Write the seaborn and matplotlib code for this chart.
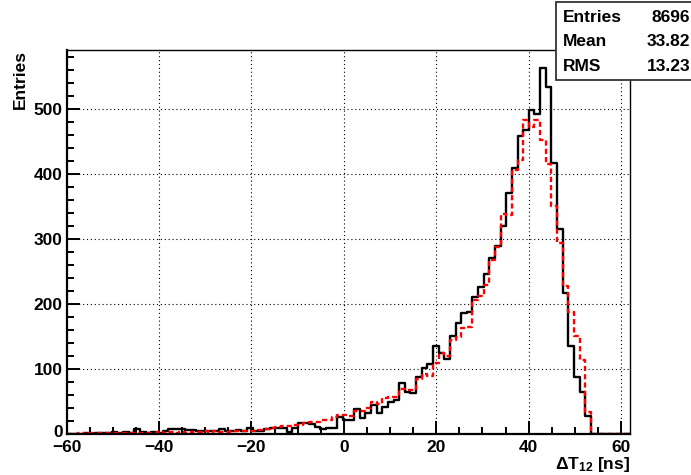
import numpy as np
import pandas as pd
import matplotlib
matplotlib.use("Agg")
import matplotlib.pyplot as plt
import matplotlib.transforms as mtransforms
from matplotlib.ticker import MultipleLocator, FixedLocator
from matplotlib.patches import Rectangle
import seaborn as sns

# Histogram binning: 100 bins on [-60, 62] ns
x_min, x_max, n_bins = -60.0, 62.0, 100

# Bin contents, measured time difference (solid black)
counts_meas = [
    0, 0, 0, 1, 0, 1, 1, 2, 3, 2,
    3, 2, 7, 3, 2, 3, 2, 4, 8, 8,
    7, 6, 6, 5, 4, 5, 4, 7, 4, 5,
    6, 4, 9, 5, 5, 8, 9, 9, 9, 3,
    10, 17, 17, 15, 11, 7, 10, 10, 26, 22,
    22, 38, 24, 32, 45, 33, 41, 50, 53, 79,
    65, 63, 87, 102, 107, 136, 124, 115, 151, 171,
    186, 188, 211, 226, 246, 271, 289, 320, 371, 409,
    458, 468, 498, 492, 564, 534, 417, 316, 217, 135,
    88, 65, 27, 0, 0, 0, 0, 0, 0, 0,
]

# Bin contents, comparison distribution (dashed red)
counts_ref = [
    0, 0, 1, 0, 1, 1, 2, 1, 2, 1,
    2, 1, 2, 2, 1, 2, 3, 2, 3, 2,
    3, 2, 3, 3, 4, 3, 4, 3, 3, 4,
    4, 5, 5, 5, 6, 8, 10, 11, 12, 13,
    14, 14, 17, 18, 19, 21, 22, 26, 30, 29,
    27, 35, 35, 40, 50, 46, 56, 57, 57, 70,
    67, 67, 84, 93, 89, 109, 124, 120, 145, 149,
    163, 165, 207, 213, 229, 268, 288, 338, 337, 406,
    421, 484, 472, 483, 452, 416, 351, 294, 228, 188,
    151, 114, 34, 0, 0, 0, 0, 0, 0, 0,
]

x_ticks = [-60, -40, -20, 0, 20, 40, 60]
y_ticks = [0, 100, 200, 300, 400, 500]
stats_names = ["Entries", "Mean", "RMS"]
stats_values = ["8696", "33.82", "13.23"]

plt.rcParams.update({
    "font.family": ["Liberation Sans", "DejaVu Sans"],
    "font.weight": "bold",
    "mathtext.fontset": "custom",
    "mathtext.rm": "Liberation Sans:bold",
    "mathtext.it": "Liberation Sans:bold",
    "mathtext.bf": "Liberation Sans:bold",
    "axes.facecolor": "white",
    "figure.facecolor": "white",
})

FS = 12.5

edges = np.linspace(x_min, x_max, n_bins + 1)
centers = 0.5 * (edges[:-1] + edges[1:])
df = pd.DataFrame({"dt": centers, "meas": counts_meas, "ref": counts_ref})

fig = plt.figure(figsize=(6.91, 4.75), dpi=100)
ax = fig.add_axes([66.7 / 691, 41 / 475, (630.3 - 66.7) / 691, (434 - 50) / 475])

ax.grid(True, which="major", color="black", linestyle=(0, (1, 2.5)), linewidth=0.8,
        zorder=0.5)

sns.histplot(data=df, x="dt", weights="meas", bins=list(edges), element="step", fill=False,
             color="black", linewidth=1.7, ax=ax, zorder=2)
sns.histplot(data=df, x="dt", weights="ref", bins=list(edges), element="step", fill=False,
             color="#ff0000", linewidth=1.7, linestyle=(0, (2.2, 1.3)), ax=ax, zorder=3)

ax.set_xlim(x_min, x_max)
ax.set_ylim(0, 591)
ax.xaxis.set_major_locator(FixedLocator(x_ticks))
ax.yaxis.set_major_locator(FixedLocator(y_ticks))
ax.xaxis.set_minor_locator(MultipleLocator(5))
ax.yaxis.set_minor_locator(MultipleLocator(20))
ax.tick_params(axis="both", which="major", direction="in", length=9.5, width=1.4,
               labelsize=FS, bottom=True, left=True, top=False, right=False,
               color="black", labelcolor="black")
ax.tick_params(axis="both", which="minor", direction="in", length=5, width=1.4,
               bottom=True, left=True, top=False, right=False, color="black")
ax.tick_params(axis="x", which="major", pad=4)
ax.tick_params(axis="y", which="major", pad=3)
for lab in ax.get_xticklabels() + ax.get_yticklabels():
    lab.set_fontweight("bold")

# lift the y-axis "0" a touch so it clears the "-60" below it
ylabs = ax.get_yticklabels()
ylabs[0].set_transform(ylabs[0].get_transform() +
                       mtransforms.ScaledTranslation(0, 3 / 100, fig.dpi_scale_trans))

for side in ["left", "bottom"]:
    ax.spines[side].set_linewidth(1.6)
    ax.spines[side].set_color("black")
    ax.spines[side].set_zorder(4)
for side in ["top", "right"]:
    ax.spines[side].set_linewidth(1.0)
    ax.spines[side].set_color("black")

ax.set_ylabel("Entries", loc="top", fontsize=FS, fontweight="bold", labelpad=4)
ax.set_xlabel(r"$\Delta$T$_{12}$ [ns]", loc="right", fontsize=FS, fontweight="bold", labelpad=0)

# Statistics box in the upper right corner
box = Rectangle((555.7 / 691, 1 - 80 / 475), 0.3, 78 / 475, transform=fig.transFigure,
                facecolor="white", edgecolor="#333333", linewidth=1.3, zorder=5)
fig.patches.append(box)
row_y = [17.5, 42, 66.5]
for name, val, yy in zip(stats_names, stats_values, row_y):
    fig.text(563 / 691, 1 - yy / 475, name, ha="left", va="center", fontsize=FS,
             fontweight="bold", zorder=6)
    fig.text(690 / 691, 1 - yy / 475, val, ha="right", va="center", fontsize=FS,
             fontweight="bold", zorder=6)

fig.savefig("out.png", dpi=100)
